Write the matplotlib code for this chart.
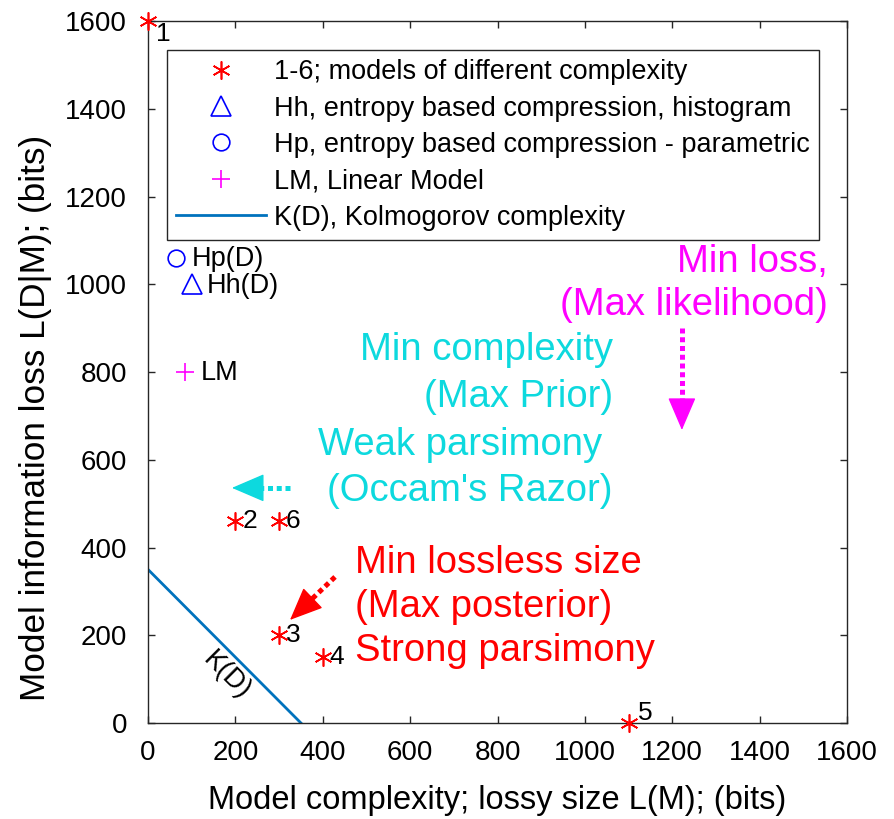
import matplotlib
matplotlib.use("Agg")
import matplotlib.pyplot as plt
import numpy as np

plt.rcParams['font.family'] = ['Liberation Sans', 'DejaVu Sans']

# models 1-6
model_x = [0, 200, 300, 400, 1100, 300]
model_y = [1600, 460, 200, 150, 0, 460]
model_lbl = ['1', '2', '3', '4', '5', '6']

# entropy based compression
hh_x, hh_y = [100], [1000]
hp_x, hp_y = [65], [1060]
lm_x, lm_y = [85], [800]

# Kolmogorov complexity line
kd_x = [0, 350]
kd_y = [350, 0]

ticks = [0, 200, 400, 600, 800, 1000, 1200, 1400, 1600]

RED = (1, 0, 0)
BLUE = (0, 0, 1)
MAG = (1, 0, 1)
CYAN = (0.05, 0.85, 0.87)
LINEBLUE = '#0072BD'
AX = (0.15, 0.15, 0.15)

fig = plt.figure(figsize=(8.95, 8.19), dpi=100)
ax = fig.add_axes([0.1654, 0.1172, 0.781, 0.857])
ax.set_xlim(0, 1600)
ax.set_ylim(0, 1600)

ax.plot(model_x, model_y, linestyle='none', marker=(6, 2, 0), markersize=13,
        color=RED, mew=1.2, clip_on=False, zorder=5,
        label='1-6; models of different complexity')
ax.plot(hh_x, hh_y, linestyle='none', marker='^', markersize=14, mfc='none',
        mec=BLUE, mew=1.2, label='Hh, entropy based compression, histogram')
ax.plot(hp_x, hp_y, linestyle='none', marker='o', markersize=12, mfc='none',
        mec=BLUE, mew=1.2, label='Hp, entropy based compression - parametric')
ax.plot(lm_x, lm_y, linestyle='none', marker='+', markersize=13,
        color=MAG, mew=1.2, label='LM, Linear Model')
ax.plot(kd_x, kd_y, color=LINEBLUE, lw=2, label='K(D), Kolmogorov complexity')

# point labels
offs = {'1': (6, -9), '5': (7, 7)}
for x, y, s in zip(model_x, model_y, model_lbl):
    dx, dy = offs.get(s, (5, 0))
    ax.annotate(s, (x, y), xytext=(dx, dy), textcoords='offset points',
                ha='left', va='center', fontsize=19, color='black')
for x, y, s in [(hp_x[0], hp_y[0], 'Hp(D)'), (hh_x[0], hh_y[0], 'Hh(D)'),
                (lm_x[0], lm_y[0], 'LM')]:
    ax.annotate(s, (x, y), xytext=(11, -1), textcoords='offset points',
                ha='left', va='center', fontsize=19.5, color='black')

ax.text(179, 109, 'K(D)', rotation=-45, rotation_mode='anchor',
        ha='center', va='center', fontsize=19.5)

# annotations
fs = 27.5
ax.text(1557, 1028, 'Min loss,', color=MAG, fontsize=fs, ha='right', va='baseline')
ax.text(1557, 930, '(Max likelihood)', color=MAG, fontsize=fs, ha='right', va='baseline')
for yy, s in zip([828, 720, 612, 507],
                 ['Min complexity', '(Max Prior)', 'Weak parsimony ', "(Occam's Razor)"]):
    ax.text(1064, yy, s, color=CYAN, fontsize=fs, ha='right', va='baseline')
for yy, s in zip([342, 242, 142],
                 ['Min lossless size', '(Max posterior)', 'Strong parsimony']):
    ax.text(474, yy, s, color=RED, fontsize=fs, ha='left', va='baseline')


def arrow(tail, tip, c, head_px=30):
    # dotted shaft + solid head
    p0 = ax.transData.transform(tail)
    p1 = ax.transData.transform(tip)
    d = p1 - p0
    L = np.hypot(*d)
    neck = ax.transData.inverted().transform(p1 - d / L * head_px)
    ax.plot([tail[0], neck[0]], [tail[1], neck[1]], color=c, lw=3.6,
            linestyle=(0, (1, 0.75)), dash_capstyle='butt')
    ax.annotate('', xy=tip, xytext=neck,
                arrowprops=dict(arrowstyle='-|>,head_length=1.05,head_width=0.45',
                                color=c, lw=1, mutation_scale=20,
                                shrinkA=0, shrinkB=0))


arrow((1222, 900), (1222, 668), MAG)
arrow((325, 536), (192, 536), CYAN)
arrow((428, 333), (325, 235), RED)

ax.set_xticks(ticks)
ax.set_yticks(ticks)
ax.tick_params(direction='in', length=5, width=1, top=True, right=True,
               labelsize=20, colors=AX, labelcolor='black')
ax.tick_params(axis='x', pad=12)
ax.tick_params(axis='y', pad=15)
for sp in ax.spines.values():
    sp.set_color(AX)
    sp.set_linewidth(1)

ax.set_xlabel('Model complexity; lossy size L(M); (bits)', fontsize=23.5, labelpad=14)
ax.set_ylabel('Model information loss L(D|M); (bits)', fontsize=25.3)
ax.yaxis.set_label_coords(-0.137, 0.435)

leg = ax.legend(loc='upper right', bbox_to_anchor=(0.96, 0.959), borderaxespad=0,
                fontsize=19.5, handlelength=3.3, handletextpad=0.3,
                borderpad=0.35, labelspacing=0.38, fancybox=False, framealpha=1)
leg.get_frame().set_edgecolor(AX)
leg.get_frame().set_linewidth(1)

fig.savefig('out.png', dpi=100)
